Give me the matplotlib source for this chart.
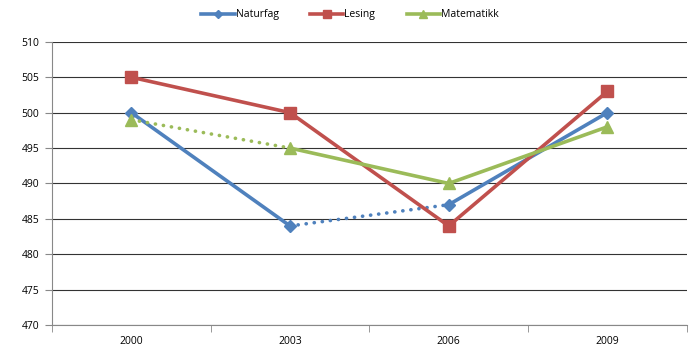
import matplotlib.pyplot as plt
from matplotlib.lines import Line2D

years = ['2000', '2003', '2006', '2009']
naturfag = [500, 484, 487, 500]
lesing = [505, 500, 484, 503]
matematikk = [499, 495, 490, 498]

# line style of each segment between two survey years
naturfag_seg = ['-', ':', '-']
lesing_seg = ['-', '-', '-']
matematikk_seg = [':', '-', '-']

plt.rcParams['font.family'] = ['Open Sans', 'DejaVu Sans']

fig = plt.figure(figsize=(7, 3.64), dpi=100)
ax = fig.add_axes([0.0743, 0.107, 0.9067, 0.778])

series = [
    ('Naturfag', naturfag, naturfag_seg, '#4F81BD', 'D', 6),
    ('Lesing', lesing, lesing_seg, '#C0504D', 's', 8),
    ('Matematikk', matematikk, matematikk_seg, '#9BBB59', '^', 8),
]

dotted = (0, (0.05, 2.2))

x = list(range(len(years)))
handles = []
for name, vals, segs, col, mk, ms in series:
    for i, ls in enumerate(segs):
        style = dotted if ls == ':' else '-'
        ax.plot(x[i:i+2], vals[i:i+2], color=col, lw=2.6, ls=style,
                solid_capstyle='round', dash_capstyle='round', zorder=3)
    ax.plot(x, vals, ls='none', marker=mk, ms=ms, color=col, zorder=4)
    handles.append(Line2D([], [], color=col, lw=2.6, marker=mk, ms=ms - 2))

ax.set_xlim(-0.5, 3.5)
ax.set_ylim(470, 510)
ax.set_yticks(range(470, 511, 5))
ax.set_xticks(x)
ax.set_xticklabels(years)
ax.set_xticks([-0.5, 0.5, 1.5, 2.5, 3.5], minor=True)
ax.tick_params(axis='x', which='major', length=0, pad=8, labelsize=7.5)
ax.tick_params(axis='x', which='minor', length=5, color='#888888')
ax.tick_params(axis='y', length=5, color='#888888', labelsize=7.5, pad=4)
ax.grid(axis='y', color='#333333', lw=0.8)
ax.set_axisbelow(True)

for s in ['top', 'right']:
    ax.spines[s].set_visible(False)
ax.spines['left'].set_color('#888888')
ax.spines['bottom'].set_color('#888888')

fig.legend(handles, [s[0] for s in series], loc='upper center',
           bbox_to_anchor=(0.5, 1.0), ncol=3, frameon=False, fontsize=7.5,
           handlelength=3.2, handletextpad=0.1, columnspacing=3)

fig.savefig('out.png', dpi=100)
